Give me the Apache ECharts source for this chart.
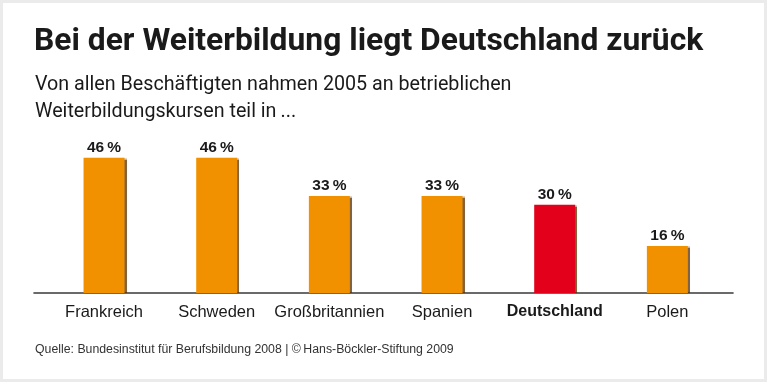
<!DOCTYPE html>
<html><head><meta charset="utf-8">
<script src="https://cdn.jsdelivr.net/npm/echarts@6/dist/echarts.min.js"></script>
<style>html,body{margin:0;padding:0;background:#ebebeb}#c{width:767px;height:382px}</style>
</head><body><div id="c"></div>
<script>
const categories = ['Frankreich', 'Schweden', 'Großbritannien', 'Spanien', 'Deutschland', 'Polen'];
const values = [46, 46, 33, 33, 30, 16];
const highlight = 'Deutschland';
const titleText = 'Bei der Weiterbildung liegt Deutschland zurück';
const subText = 'Von allen Beschäftigten nahmen 2005 an betrieblichen\nWeiterbildungskursen teil in\u2009...';
const sourceText = 'Quelle: Bundesinstitut für Berufsbildung 2008 | \u00A9\u2009Hans-Böckler-Stiftung 2009';

const ORANGE = '#f29100', RED = '#e2001a';
const narrow = 'Roboto, sans-serif';
const sans = '"Liberation Sans", Arial, sans-serif';

const chart = echarts.init(document.getElementById('c'), null, {renderer: 'canvas'});
chart.setOption({
  backgroundColor: '#ebebeb',
  animation: false,
  graphic: [{type: 'rect', z: -10, silent: true, shape: {x: 3, y: 3, width: 761, height: 376}, style: {fill: '#ffffff'}}],
  title: [
    {text: titleText, left: 34, top: 26, padding: 0,
     textStyle: {fontFamily: narrow, fontWeight: 'bold', fontSize: 31.8, color: '#1a1a1a'}},
    {text: subText, left: 35, top: 72, padding: 0,
     textStyle: {fontFamily: narrow, fontWeight: 'normal', fontSize: 19.7, lineHeight: 27, color: '#1a1a1a'}},
    {text: sourceText, left: 35, top: 344, padding: 0,
     textStyle: {fontFamily: sans, fontWeight: 'normal', fontSize: 12.3, color: '#333333'}}
  ],
  grid: [
    {left: 47.7, right: 43.3, top: 146, bottom: 89},
    {left: 34, right: 34, top: 146, bottom: 89}
  ],
  xAxis: [
    {type: 'category', gridIndex: 0, data: categories,
     axisLine: {show: false}, axisTick: {show: false},
     axisLabel: {interval: 0, margin: 11, fontSize: 16.5, fontFamily: sans, color: '#1a1a1a',
       formatter: v => v === highlight ? '{b|' + v + '}' : v,
       rich: {b: {fontWeight: 'bold', fontSize: 16, fontFamily: sans, color: '#1a1a1a'}}}},
    {type: 'value', gridIndex: 1, min: 0, max: 1,
     axisLine: {show: true, onZero: false, lineStyle: {color: '#3a3a3a', width: 1.6}},
     axisTick: {show: false}, axisLabel: {show: false}, splitLine: {show: false}}
  ],
  yAxis: [
    {type: 'value', gridIndex: 0, min: 0, max: 50, show: false, splitLine: {show: false}},
    {type: 'value', gridIndex: 1, min: 0, max: 1, show: false, splitLine: {show: false}}
  ],
  series: [{
    type: 'bar', xAxisIndex: 0, yAxisIndex: 0, barWidth: 41,
    data: values.map((v, i) => ({value: v, itemStyle: {color: categories[i] === highlight ? RED : ORANGE}})),
    itemStyle: {shadowColor: 'rgba(90,45,0,0.75)', shadowBlur: 1, shadowOffsetX: 2, shadowOffsetY: 0},
    label: {show: true, position: 'top', distance: 2, formatter: p => p.value + '\u2009%',
      fontFamily: sans, fontWeight: 'bold', fontSize: 15.5, color: '#1a1a1a'}
  }]
});
</script></body></html>
